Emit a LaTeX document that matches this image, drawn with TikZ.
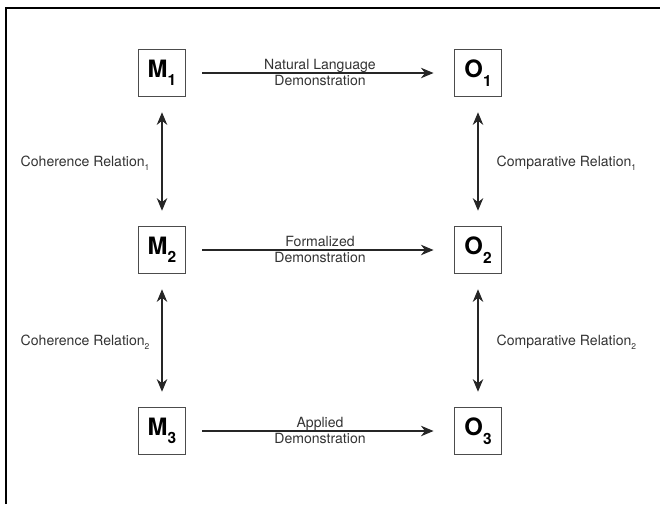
\documentclass[tikz,border=0pt]{standalone}
\usepackage{fontspec}
\setmainfont{TeX Gyre Heros}
\usetikzlibrary{arrows.meta,positioning}
\newcommand{\boxsub}[1]{\raisebox{-6pt}{\fontsize{11}{12}\selectfont #1}}
\newcommand{\relsub}[1]{\raisebox{-2.5pt}{\fontsize{6}{7}\selectfont #1}}
\tikzstyle{state} = [rectangle, draw=black!70, line width=0.8pt, minimum width=34pt, minimum height=34pt, inner sep=0pt, text centered, font=\fontsize{17}{19}\selectfont\bfseries]
\tikzstyle{demo} = [line width=0.9pt, black!85, -{Stealth[length=9pt,width=7.5pt]}, shorten <=0.4cm, shorten >=0.5cm]
\tikzstyle{relation} = [line width=0.9pt, black!85, {Stealth[length=9pt,width=7.5pt]}-{Stealth[length=9pt,width=7.5pt]}, shorten <=0.37cm, shorten >=0.37cm]
\tikzstyle{lbl} = [inner sep=0pt, text height=7.5pt, text depth=2pt, text=black!80, font=\fontsize{10}{11}\selectfont]

\begin{document}
\begin{tikzpicture}
            \useasboundingbox (0,0) rectangle (16.5,-12.6);
            \draw [line width=1.3pt] (0.15,-12.6) |- (16.5,-0.2);
            \node (m1) [state] at (4.05,-1.825) {M\boxsub{1}};
            \node (m2) [state, below of = m1, yshift = -3.425cm] {M\boxsub{2}};
            \node (m3) [state, below of = m2, yshift = -3.525cm] {M\boxsub{3}};
            \node (o1) [state, right of = m1, xshift = 6.9cm] {O\boxsub{1}};
            \node (o2) [state, right of = m2, xshift = 6.9cm] {O\boxsub{2}};
            \node (o3) [state, right of = m3, xshift = 6.9cm] {O\boxsub{3}};
            \draw [demo] (m1) -- node[lbl, above=0pt] {Natural Language} node[lbl, below=1pt] {Demonstration} (o1);
            \draw [demo] (m2) -- node[lbl, above=0pt] {Formalized} node[lbl, below=1pt] {Demonstration} (o2);
            \draw [demo] (m3) -- node[lbl, above=0pt] {Applied} node[lbl, below=1pt] {Demonstration} (o3);
            \draw [relation] (m1) -- node[lbl, left=0.3cm, yshift=-1pt] {Coherence Relation\relsub{1}} (m2);
            \draw [relation] (m2) -- node[lbl, left=0.3cm, yshift=-1pt] {Coherence Relation\relsub{2}} (m3);
            \draw [relation] (o1) -- node[lbl, right=0.45cm, yshift=-1pt] {Comparative Relation\relsub{1}} (o2);
            \draw [relation] (o2) -- node[lbl, right=0.45cm, yshift=-1pt] {Comparative Relation\relsub{2}} (o3);
        \end{tikzpicture}
\end{document}
